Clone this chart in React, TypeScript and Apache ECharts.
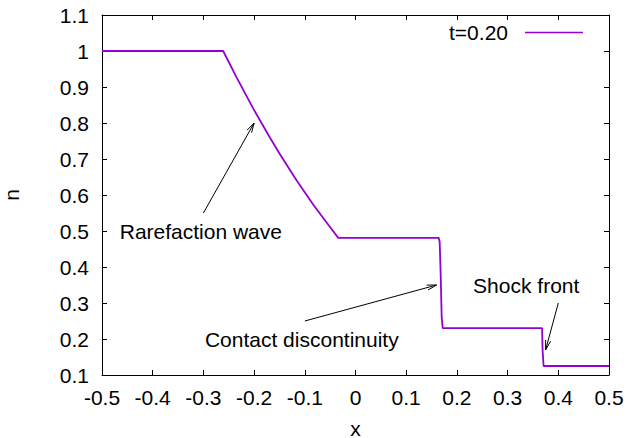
import React, { useEffect, useRef } from "react";
import * as echarts from "echarts";

const xValues = [-0.5, -0.261, -0.2343, -0.2016, -0.1686, -0.149, -0.116, -0.0832, -0.0503, -0.034, 0.164, 0.166, 0.168, 0.17, 0.172, 0.368, 0.369, 0.371, 0.5];
const nValues = [1, 1, 0.926, 0.84, 0.759, 0.713, 0.64, 0.573, 0.511, 0.481, 0.481, 0.47, 0.38, 0.26, 0.23, 0.23, 0.17, 0.125, 0.125];
const seriesName = "t=0.20";

const annotationTexts = ["Rarefaction wave", "Contact discontinuity", "Shock front"];
const annotationTextPos = [[-0.465, 0.5], [-0.297, 0.2], [0.232, 0.35]];
const arrowFrom = [[-0.3, 0.55], [-0.1, 0.25], [0.4, 0.3]];
const arrowTo = [[-0.2, 0.8], [0.16, 0.35], [0.375, 0.17]];

const FONT = '"Liberation Sans", Arial, Helvetica, sans-serif';
const FS = 21;

export default function App() {
  const ref = useRef<HTMLDivElement>(null);
  useEffect(() => {
    if (!ref.current) return;
    const chart = echarts.init(ref.current, null, { renderer: "svg" });
    const axisLine = { show: true, onZero: false, lineStyle: { color: "#000", width: 1 } };
    const tick = { show: true, inside: true, length: 5, lineStyle: { color: "#000", width: 1 } };
    const xCommon = { type: "value", min: -0.5, max: 0.5, interval: 0.1, splitLine: { show: false }, axisLine, axisTick: tick };
    const yCommon = { type: "value", min: 0.1, max: 1.1, interval: 0.1, splitLine: { show: false }, axisLine, axisTick: tick };
    chart.setOption({
      animation: false,
      backgroundColor: "#fff",
      textStyle: { fontFamily: FONT },
      grid: { left: 102, right: 20, top: 15, bottom: 63, outerBoundsMode: "none", containLabel: false },
      legend: {
        right: 41,
        top: 17,
        align: "right",
        icon: "rect",
        itemWidth: 58,
        itemHeight: 1.6,
        textStyle: { fontSize: FS, fontFamily: FONT, color: "#000", padding: [0, 12, 0, 0] },
        data: [seriesName],
      },
      xAxis: [
        { ...xCommon, position: "bottom", name: "x", nameLocation: "middle", nameGap: 46, nameTextStyle: { fontSize: FS, lineHeight: 14, fontFamily: FONT, color: "#000" }, axisLabel: { fontSize: FS, fontFamily: FONT, color: "#000", margin: 12 } },
        { ...xCommon, position: "top", axisLabel: { show: false } },
      ],
      yAxis: [
        { ...yCommon, position: "left", name: "n", nameLocation: "middle", nameRotate: 90, nameGap: 80, nameTextStyle: { fontSize: FS, fontFamily: FONT, color: "#000" }, axisLabel: { fontSize: FS, fontFamily: FONT, color: "#000", margin: 13 } },
        { ...yCommon, position: "right", axisLabel: { show: false } },
      ],
      series: [
        {
          name: seriesName,
          type: "line",
          symbol: "none",
          data: xValues.map((x, i) => [x, nValues[i]]),
          lineStyle: { color: "#9400d3", width: 1.8 },
          itemStyle: { color: "#9400d3" },
        },
      ],
    });

    const toPx = (p: number[]) => chart.convertToPixel({ xAxisIndex: 0, yAxisIndex: 0 }, p) as number[];
    const elements: any[] = [];
    annotationTexts.forEach((t, i) => {
      const tp = toPx(annotationTextPos[i]);
      elements.push({
        type: "text",
        style: { text: t, x: tp[0], y: tp[1], fill: "#000", fontSize: FS, fontFamily: FONT, align: "left", verticalAlign: "middle" },
      });
      const a = toPx(arrowFrom[i]);
      const b = toPx(arrowTo[i]);
      elements.push({ type: "line", shape: { x1: a[0], y1: a[1], x2: b[0], y2: b[1] }, style: { stroke: "#000", lineWidth: 1 } });
      const ang = Math.atan2(b[1] - a[1], b[0] - a[0]);
      const L = 10, h = 0.26;
      const p1 = [b[0] - L * Math.cos(ang - h), b[1] - L * Math.sin(ang - h)];
      const p2 = [b[0] - L * Math.cos(ang + h), b[1] - L * Math.sin(ang + h)];
      elements.push({ type: "polyline", shape: { points: [p1, [b[0], b[1]], p2] }, style: { stroke: "#000", lineWidth: 1, fill: "none" } });
    });
    chart.setOption({ graphic: elements });
    return () => chart.dispose();
  }, []);
  return <div ref={ref} style={{ position: "fixed", left: 0, top: 0, width: 629, height: 438 }} />;
}
